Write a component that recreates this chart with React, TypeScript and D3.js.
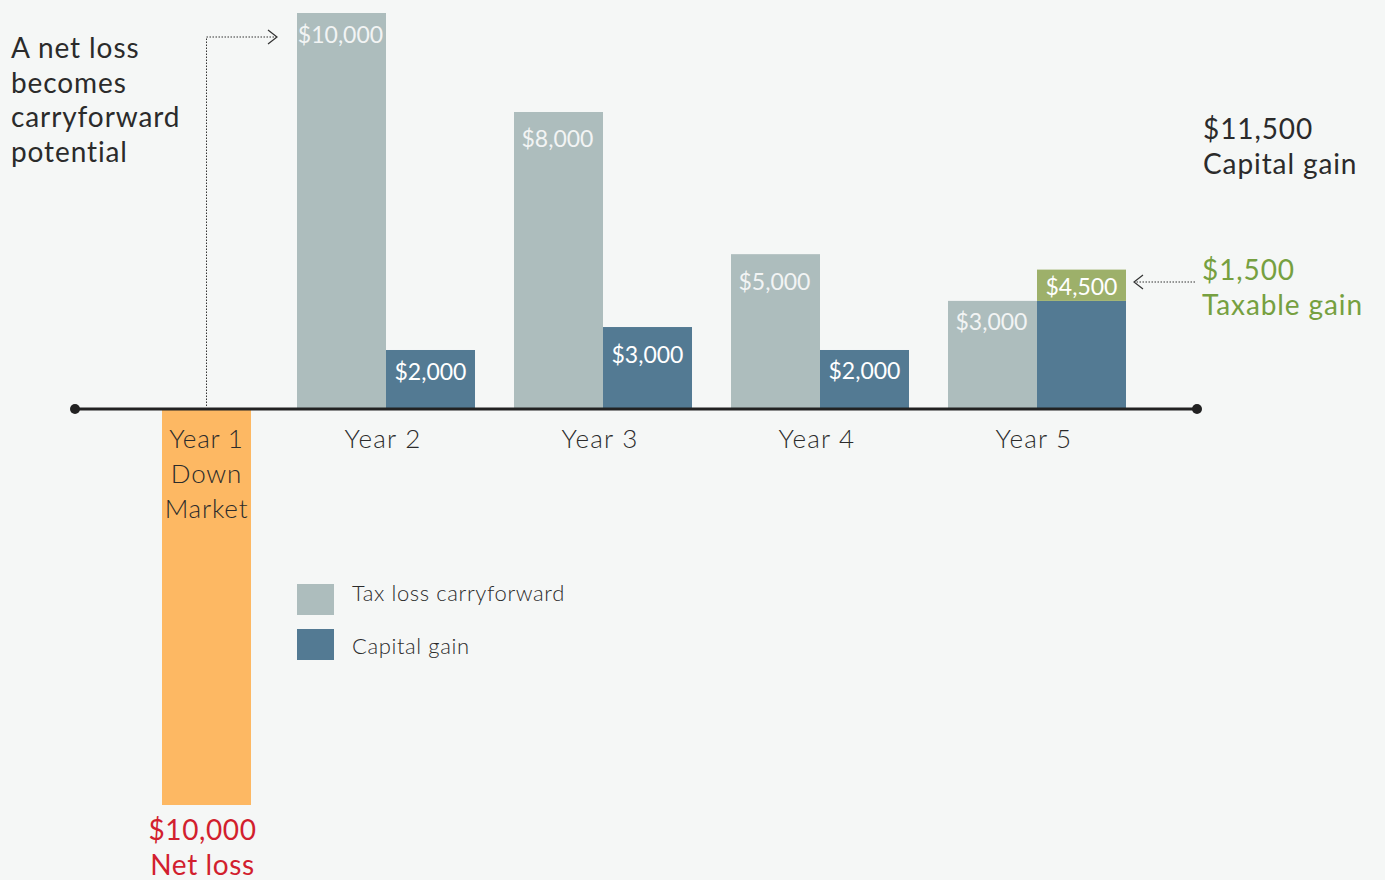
import React from "react";
import * as d3 from "d3";

// ---- data ----
const years = ["Year 2", "Year 3", "Year 4", "Year 5"];
const carryforwardLabels = ["$10,000", "$8,000", "$5,000", "$3,000"];
const gainLabels = ["$2,000", "$3,000", "$2,000", "$4,500"];
// drawn (illustrative) bar heights, in dollar units
const carryforwardDrawn = [10000, 7500, 3910, 2730];
const gainDrawn = [1490, 2070, 1490, 2730];
const taxableDrawn = [0, 0, 0, 790];
const year1Label = ["Year 1", "Down", "Market"];
const year1Drawn = -10000;
const netLossLabel = ["$10,000", "Net loss"];
const introText = ["A net loss", "becomes", "carryforward", "potential"];
const totalGainText = ["$11,500", "Capital gain"];
const taxableText = ["$1,500", "Taxable gain"];
const legendItems = ["Tax loss carryforward", "Capital gain"];

// label baseline offsets below bar tops (layout)
const carryLabelDy = [30, 35, 36, 29];
const gainLabelDy = [30, 36, 29, 25];

const W = 1385;
const H = 880;
const C = {
  bg: "#f5f7f6",
  grey: "#adbdbd",
  blue: "#537a93",
  green: "#9db06a",
  orange: "#fdb863",
  red: "#d21f2e",
  greenText: "#76a040",
  text: "#2b2b2b",
  label: "#f2f4f4",
};
const FONT = "Lato, 'Open Sans', sans-serif";

export default function App() {
  const y = d3.scaleLinear().domain([0, 10000]).range([409, 13]);
  const x = d3
    .scaleBand<string>()
    .domain(years)
    .range([297, 1126])
    .paddingInner(0.1797)
    .paddingOuter(0);
  const sub = d3
    .scaleBand<string>()
    .domain(["carry", "gain"])
    .range([0, x.bandwidth()])
    .padding(0);
  const bw = sub.bandwidth();
  const x1 = (x("Year 2") as number) - 135;
  const y0 = y(0);

  return (
    <svg
      width={W}
      height={H}
      style={{ position: "absolute", left: 0, top: 0, fontFamily: FONT }}
    >
      <rect x={0} y={0} width={W} height={H} fill={C.bg} />

      {/* intro text */}
      <text x={11} y={58} fontSize={28} fill={C.text} letterSpacing={0.9}>
        {introText.map((t, i) => (
          <tspan key={i} x={11} y={58 + i * 34.7}>
            {t}
          </tspan>
        ))}
      </text>

      {/* year 1 bar */}
      <rect x={x1} y={y0} width={bw} height={y(year1Drawn) - y0} fill={C.orange} />

      {/* bars years 2-5 */}
      {years.map((yr, i) => {
        const gx = x(yr) as number;
        const cx = gx + (sub("carry") as number);
        const gxx = gx + (sub("gain") as number);
        const cTop = y(carryforwardDrawn[i]);
        const gTop = y(gainDrawn[i]);
        const tTop = y(gainDrawn[i] + taxableDrawn[i]);
        return (
          <g key={yr}>
            <rect x={cx} y={cTop} width={bw} height={y0 - cTop} fill={C.grey} />
            <rect x={gxx} y={gTop} width={bw} height={y0 - gTop} fill={C.blue} />
            {taxableDrawn[i] > 0 && (
              <rect x={gxx} y={tTop} width={bw} height={gTop - tTop} fill={C.green} />
            )}
            <text
              x={cx + bw / 2 - 1}
              y={cTop + carryLabelDy[i]}
              textAnchor="middle"
              fontSize={23}
              fill={C.label}
            >
              {carryforwardLabels[i]}
            </text>
            <text
              x={gxx + bw / 2}
              y={(taxableDrawn[i] > 0 ? tTop : gTop) + gainLabelDy[i]}
              textAnchor="middle"
              fontSize={23}
              fill="#ffffff"
            >
              {gainLabels[i]}
            </text>
            <text
              x={gx + x.bandwidth() / 2 - 3}
              y={448}
              textAnchor="middle"
              fontSize={26}
              fontWeight={300}
              letterSpacing={1.2}
              fill={C.text}
            >
              {yr}
            </text>
          </g>
        );
      })}

      {/* baseline */}
      <line x1={75} x2={1197} y1={y0} y2={y0} stroke="#222" strokeWidth={3} />
      <circle cx={75} cy={y0} r={5} fill="#222" />
      <circle cx={1197} cy={y0} r={5} fill="#222" />

      {/* year 1 label */}
      <text
        fontSize={26}
        fontWeight={300}
        fill={C.text}
        textAnchor="middle"
        letterSpacing={0.8}
      >
        {year1Label.map((t, i) => (
          <tspan key={i} x={x1 + bw / 2} y={448 + i * 35}>
            {t}
          </tspan>
        ))}
      </text>

      {/* net loss label */}
      <text fontSize={28} fill={C.red} textAnchor="middle" letterSpacing={0.6}>
        {netLossLabel.map((t, i) => (
          <tspan key={i} x={x1 + bw / 2 - 4} y={840 + i * 35}>
            {t}
          </tspan>
        ))}
      </text>

      {/* dotted arrow from year 1 to year 2 */}
      <path
        d={`M${x1 + bw / 2},${y0 - 3} V37 H276`}
        fill="none"
        stroke="#333"
        strokeWidth={1}
        strokeDasharray="1.5,1.5"
      />
      <path d="M268,30 L277,37 L268,44" fill="none" stroke="#333" strokeWidth={1.2} />

      {/* right annotations */}
      <text fontSize={28} fill={C.text} letterSpacing={0.9}>
        {totalGainText.map((t, i) => (
          <tspan key={i} x={1203} y={139 + i * 35}>
            {t}
          </tspan>
        ))}
      </text>
      <text fontSize={28} fill={C.greenText} letterSpacing={0.9}>
        {taxableText.map((t, i) => (
          <tspan key={i} x={1202} y={280 + i * 35}>
            {t}
          </tspan>
        ))}
      </text>
      <path
        d="M1195,282 H1135"
        fill="none"
        stroke="#333"
        strokeWidth={1}
        strokeDasharray="1.5,1.5"
      />
      <path d="M1143,275 L1134,282 L1143,289" fill="none" stroke="#333" strokeWidth={1.2} />

      {/* legend */}
      {legendItems.map((t, i) => (
        <g key={t}>
          <rect
            x={297}
            y={584 + i * 45}
            width={37}
            height={31}
            fill={i === 0 ? C.grey : C.blue}
          />
          <text
            x={352}
            y={601 + i * 53}
            fontSize={22}
            fontWeight={300}
            letterSpacing={0.6}
            fill={C.text}
          >
            {t}
          </text>
        </g>
      ))}
    </svg>
  );
}
